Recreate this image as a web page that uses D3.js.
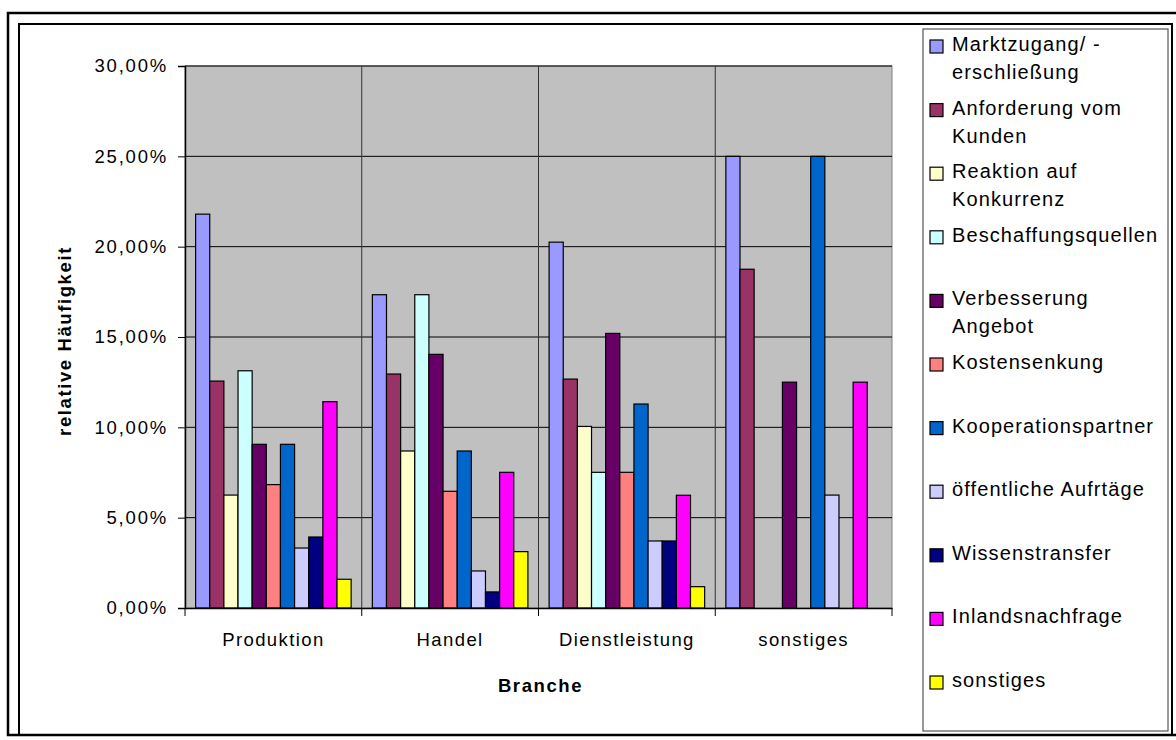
<!DOCTYPE html>
<html>
<head>
<meta charset="utf-8">
<script src="https://cdn.jsdelivr.net/npm/d3@7"></script>
<style>
  body { margin: 0; background: #fff; }
  svg text { font-family: "Liberation Sans", Arial, sans-serif; fill: #000; }
</style>
</head>
<body>
<div id="chart"></div>
<script>
// categories (Branche)
const categories = ['Produktion', 'Handel', 'Dienstleistung', 'sonstiges'];

// series names, legend line breaks marked with \n
const seriesNames = [
  'Marktzugang/ -\nerschließung',
  'Anforderung vom\nKunden',
  'Reaktion auf\nKonkurrenz',
  'Beschaffungsquellen',
  'Verbesserung\nAngebot',
  'Kostensenkung',
  'Kooperationspartner',
  'öffentliche Aufrtäge',
  'Wissenstransfer',
  'Inlandsnachfrage',
  'sonstiges'
];

const seriesColors = ['#9999FF', '#993366', '#FFFFCC', '#CCFFFF', '#660066', '#FF8080',
  '#0066CC', '#CCCCFF', '#000080', '#FF00FF', '#FFFF00'];

// relative frequency in percent, one array per category
const produktion = [21.8, 12.56, 6.25, 13.13, 9.06, 6.83, 9.06, 3.32, 3.93, 11.42, 1.59];
const handel = [17.34, 12.95, 8.69, 17.34, 14.04, 6.46, 8.69, 2.05, 0.89, 7.51, 3.12];
const dienstleistung = [20.25, 12.67, 10.05, 7.51, 15.2, 7.51, 11.29, 3.71, 3.71, 6.24, 1.18];
const sonstiges = [25, 18.75, 0, 0, 12.5, 0, 25, 6.25, 0, 12.5, 0];

const yTicks = [0, 5, 10, 15, 20, 25, 30];

const values = [produktion, handel, dienstleistung, sonstiges];

const W = 1176, H = 740;
const plot = {left: 185, top: 66, right: 892, bottom: 608};

const svg = d3.select('#chart').append('svg')
  .attr('width', W)
  .attr('height', H);

// frames
svg.append('rect')
  .attr('x', 8).attr('y', 13).attr('width', 1190).attr('height', 722)
  .attr('fill', 'none').attr('stroke', '#000').attr('stroke-width', 2.5);
svg.append('rect')
  .attr('x', 19).attr('y', 24).attr('width', 1153).attr('height', 711)
  .attr('fill', 'none').attr('stroke', '#000').attr('stroke-width', 2);

const x0 = d3.scaleBand()
  .domain(categories)
  .range([plot.left, plot.right])
  .padding(0);

const x1 = d3.scaleBand()
  .domain(d3.range(seriesNames.length))
  .range([0, x0.bandwidth()])
  .paddingInner(0)
  .paddingOuter(0.75);

const y = d3.scaleLinear()
  .domain([0, 30])
  .range([plot.bottom, plot.top]);

const locale = d3.formatLocale({decimal: ',', thousands: '.', grouping: [3], currency: ['', '€']});
const fmt = v => locale.format('.2f')(v) + '%';

// plot background
svg.append('rect')
  .attr('x', plot.left).attr('y', plot.top)
  .attr('width', plot.right - plot.left).attr('height', plot.bottom - plot.top)
  .attr('fill', '#C0C0C0')
  .attr('stroke', '#808080');

// horizontal gridlines
svg.append('g').selectAll('line')
  .data(yTicks.filter(d => d > 0))
  .enter().append('line')
  .attr('x1', plot.left).attr('x2', plot.right)
  .attr('y1', d => y(d)).attr('y2', d => y(d))
  .attr('stroke', '#000').attr('stroke-width', 1);

// vertical gridlines between categories
svg.append('g').selectAll('line')
  .data(categories.slice(1))
  .enter().append('line')
  .attr('x1', d => x0(d)).attr('x2', d => x0(d))
  .attr('y1', plot.top).attr('y2', plot.bottom)
  .attr('stroke', '#333').attr('stroke-width', 1);

// bars
const groups = svg.append('g').selectAll('g')
  .data(categories)
  .enter().append('g')
  .attr('transform', d => `translate(${x0(d)},0)`);

groups.selectAll('rect')
  .data((c, ci) => values[ci].map((v, si) => ({si, v})).filter(d => d.v > 0))
  .enter().append('rect')
  .attr('x', d => x1(d.si))
  .attr('width', x1.bandwidth())
  .attr('y', d => y(d.v))
  .attr('height', d => y(0) - y(d.v))
  .attr('fill', d => seriesColors[d.si])
  .attr('stroke', '#000').attr('stroke-width', 1.2);

// y axis
const yAxis = svg.append('g')
  .attr('transform', `translate(${plot.left},0)`)
  .call(d3.axisLeft(y).tickValues(yTicks).tickSize(7).tickPadding(12).tickFormat(fmt));
yAxis.select('.domain').attr('stroke', '#000').attr('stroke-width', 1.5);
yAxis.selectAll('.tick line').attr('stroke', '#000');
yAxis.selectAll('.tick text')
  .attr('font-size', 18.5).attr('letter-spacing', 1.8)
  .attr('font-family', '"Liberation Sans", Arial, sans-serif')
  .attr('dx', 2);

// x axis
const xAxis = svg.append('g')
  .attr('transform', `translate(0,${plot.bottom})`)
  .call(d3.axisBottom(x0).tickSize(0).tickPadding(25));
xAxis.select('.domain').attr('stroke', '#000').attr('stroke-width', 1.5);
xAxis.selectAll('.tick text')
  .attr('font-size', 18.5).attr('letter-spacing', 1.4)
  .attr('font-family', '"Liberation Sans", Arial, sans-serif');

// tick marks at category boundaries
svg.append('g').selectAll('line')
  .data(d3.range(categories.length + 1))
  .enter().append('line')
  .attr('x1', i => plot.left + i * x0.step())
  .attr('x2', i => plot.left + i * x0.step())
  .attr('y1', plot.bottom).attr('y2', plot.bottom + 8)
  .attr('stroke', '#000').attr('stroke-width', 1);

// axis titles
svg.append('text')
  .attr('transform', `translate(71,${(plot.top + plot.bottom) / 2 + 4}) rotate(-90)`)
  .attr('text-anchor', 'middle')
  .attr('font-size', 18.5).attr('font-weight', 'bold').attr('letter-spacing', 1.6)
  .text('relative Häufigkeit');

svg.append('text')
  .attr('x', (plot.left + plot.right) / 2 + 2)
  .attr('y', 692)
  .attr('text-anchor', 'middle')
  .attr('font-size', 18.5).attr('font-weight', 'bold').attr('letter-spacing', 1.6)
  .text('Branche');

// legend
svg.append('rect')
  .attr('x', 923).attr('y', 29).attr('width', 245).attr('height', 702)
  .attr('fill', '#fff').attr('stroke', '#555').attr('stroke-width', 1.2);

const legend = svg.append('g').selectAll('g')
  .data(seriesNames)
  .enter().append('g')
  .attr('transform', (d, i) => `translate(930,${40 + i * 63.6})`);

legend.append('rect')
  .attr('width', 13).attr('height', 13)
  .attr('fill', (d, i) => seriesColors[i])
  .attr('stroke', '#000').attr('stroke-width', 1.2);

legend.append('text')
  .attr('x', 22).attr('y', 11)
  .attr('font-size', 20).attr('letter-spacing', 1.1)
  .selectAll('tspan')
  .data(d => d.split('\n'))
  .enter().append('tspan')
  .attr('x', 22)
  .attr('dy', (d, i) => i === 0 ? 0 : 28)
  .text(d => d);
</script>
</body>
</html>
